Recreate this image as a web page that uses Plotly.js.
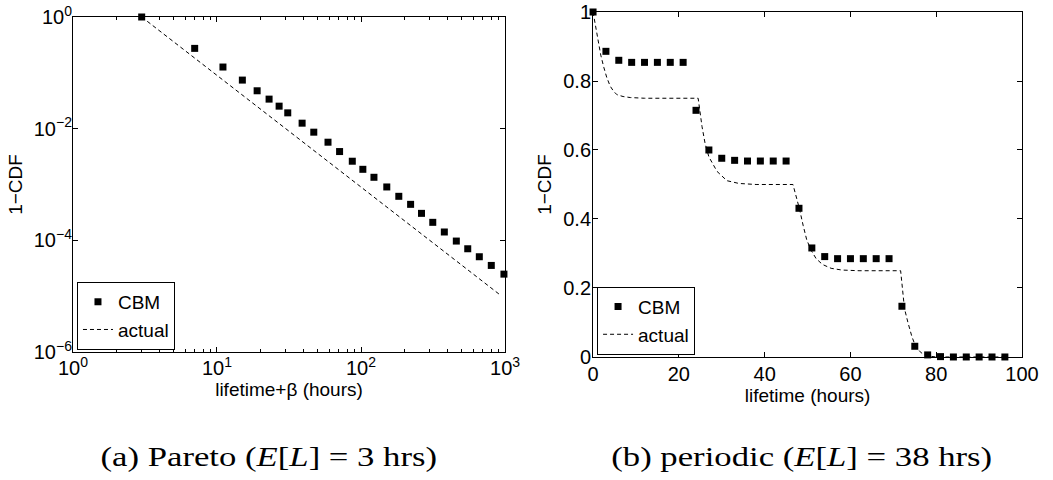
<!DOCTYPE html>
<html>
<head>
<meta charset="utf-8">
<script src="https://cdn.plot.ly/plotly-3.0.1.min.js"></script>
<style>
html,body{margin:0;padding:0;background:#fff;}
#chart{width:1053px;height:480px;}
</style>
</head>
<body>
<div id="chart"></div>
<script>
// ---- Panel (a): Pareto ----
var paretoX = [3, 7, 11, 15, 19, 23, 27, 31, 39, 47, 59, 71, 87, 103, 123, 151, 183, 221, 263, 315, 379, 459, 551, 663, 803, 983];
var paretoCBM = [1, 0.274, 0.127, 0.0741, 0.0477, 0.0338, 0.0253, 0.0192, 0.01254, 0.00865, 0.00572, 0.00389, 0.00261, 0.00187, 0.001346, 0.000903, 0.000614, 0.000441, 0.000304, 0.00021, 0.000141, 0.000097, 0.0000706, 0.0000508, 0.0000355, 0.0000248];
var paretoActualX = [3, 10, 30, 100, 300, 930];
var paretoActualY = [1, 0.09, 0.01, 0.0009, 0.0001, 0.0000104];

// ---- Panel (b): periodic ----
var periodicX = [0, 3, 6, 9, 12, 15, 18, 21, 24, 27, 30, 33, 36, 39, 42, 45, 48, 51, 54, 57, 60, 63, 66, 69, 72, 75, 78, 81, 84, 87, 90, 93, 96];
var periodicCBM = [1, 0.886, 0.860, 0.854, 0.854, 0.854, 0.854, 0.854, 0.715, 0.600, 0.576, 0.570, 0.568, 0.568, 0.568, 0.568, 0.431, 0.316, 0.291, 0.285, 0.285, 0.285, 0.285, 0.285, 0.147, 0.031, 0.006, 0.001, 0, 0, 0, 0, 0];
var periodicActualX = [0, 0.4, 0.8, 1.3, 1.8, 2.5, 3.2, 4, 4.8, 5.6, 7, 8.7, 12, 24.5, 25, 25.4, 26.1, 27, 28.9, 31.2, 34, 38, 46.6, 47.3, 48.1, 49, 49.8, 50.8, 52, 53.5, 55.5, 58, 62, 71.7, 72.2, 72.6, 73.4, 74.3, 75.2, 76.5, 78, 80, 96];
var periodicActualY = [1, 0.97, 0.94, 0.91, 0.875, 0.84, 0.81, 0.785, 0.77, 0.76, 0.755, 0.752, 0.75, 0.75, 0.70, 0.668, 0.62, 0.58, 0.538, 0.511, 0.503, 0.5, 0.5, 0.47, 0.43, 0.38, 0.34, 0.31, 0.285, 0.268, 0.257, 0.252, 0.25, 0.25, 0.19, 0.14, 0.1, 0.06, 0.03, 0.012, 0.003, 0, 0];

// ---- tick labels ----
var logXTickVals = [1, 10, 100, 1000];
var logXTickText = ['10<sup>0</sup>', '10<sup>1</sup>', '10<sup>2</sup>', '10<sup>3</sup>'];
var logYTickVals = [1e-6, 1e-4, 1e-2, 1];
var logYTickText = ['10<sup>\u22126</sup>', '10<sup>\u22124</sup>', '10<sup>\u22122</sup>', '10<sup>0</sup>'];
var linXTickVals = [0, 20, 40, 60, 80, 100];
var linYTickVals = [0, 0.2, 0.4, 0.6, 0.8, 1];

var captionA = '(a) Pareto (<i>E</i>[<i>L</i>] = 3 hrs)';
var captionB = '(b) periodic (<i>E</i>[<i>L</i>] = 38 hrs)';

var sans = 'Liberation Sans, Arial, Helvetica, sans-serif';
var serif = 'Liberation Serif, Times New Roman, serif';

var traces = [
  {x: paretoX, y: paretoCBM, type: 'scatter', mode: 'markers', name: 'CBM',
   marker: {symbol: 'square', size: 7, color: 'black'}, cliponaxis: false,
   xaxis: 'x', yaxis: 'y', legend: 'legend'},
  {x: paretoActualX, y: paretoActualY, type: 'scatter', mode: 'lines', name: 'actual',
   line: {color: 'black', width: 1, dash: '4px,3px'},
   xaxis: 'x', yaxis: 'y', legend: 'legend'},
  {x: periodicX, y: periodicCBM, type: 'scatter', mode: 'markers', name: 'CBM',
   marker: {symbol: 'square', size: 7, color: 'black'}, cliponaxis: false,
   xaxis: 'x2', yaxis: 'y2', legend: 'legend2'},
  {x: periodicActualX, y: periodicActualY, type: 'scatter', mode: 'lines', name: 'actual',
   line: {color: 'black', width: 1, dash: '4px,3px'},
   xaxis: 'x2', yaxis: 'y2', legend: 'legend2'}
];

var axisCommon = {
  showline: true, linecolor: 'black', linewidth: 1, mirror: 'ticks',
  ticks: 'inside', ticklen: 5, tickwidth: 1, tickcolor: 'black',
  showgrid: false, zeroline: false,
  tickfont: {family: sans, size: 20, color: 'black'}
};
function ax(extra) { return Object.assign({}, axisCommon, extra); }
var titleFont = {family: sans, size: 19, color: 'black'};

var legendCommon = {
  bgcolor: 'white', bordercolor: 'black', borderwidth: 1,
  font: {family: sans, size: 19, color: 'black'},
  xanchor: 'left', yanchor: 'bottom', tracegroupgap: 0, itemwidth: 30
};

var layout = {
  width: 1053, height: 480,
  margin: {l: 0, r: 0, t: 0, b: 0},
  paper_bgcolor: 'white', plot_bgcolor: 'white',
  xaxis: ax({type: 'log', range: [0, 3], domain: [0.0693, 0.4796], anchor: 'y',
    tickmode: 'array', tickvals: logXTickVals, ticktext: logXTickText, ticklabelstandoff: -2,
    minor: {ticks: 'inside', ticklen: 3, dtick: 'D1', tickcolor: 'black', showgrid: false},
    title: {text: 'lifetime+\u03b2 (hours)', font: titleFont, standoff: 2}}),
  yaxis: ax({type: 'log', range: [-6, 0], domain: [0.2667, 0.9646], anchor: 'x',
    tickmode: 'array', tickvals: logYTickVals, ticktext: logYTickText, ticklabelstandoff: -4,
    title: {text: '1\u2212CDF', font: titleFont, standoff: 6}}),
  xaxis2: ax({range: [0, 100], domain: [0.5632, 0.9706], anchor: 'y2',
    tickmode: 'array', tickvals: linXTickVals, ticklabelstandoff: -1,
    title: {text: 'lifetime (hours)', font: titleFont, standoff: 2}}),
  yaxis2: ax({range: [0, 1], domain: [0.2563, 0.975], anchor: 'x2',
    tickmode: 'array', tickvals: linYTickVals, ticklabelstandoff: -3,
    title: {text: '1\u2212CDF', font: titleFont, standoff: 6}}),
  legend: Object.assign({}, legendCommon, {x: 0.0731, y: 0.271}),
  legend2: Object.assign({}, legendCommon, {x: 0.567, y: 0.261}),
  showlegend: true,
  annotations: [
    {text: captionA, xref: 'paper', yref: 'paper', x: 0.255, y: 0.048, xanchor: 'center', yanchor: 'middle',
     showarrow: false, font: {family: serif, size: 28, color: 'black'}},
    {text: captionB, xref: 'paper', yref: 'paper', x: 0.7616, y: 0.048, xanchor: 'center', yanchor: 'middle',
     showarrow: false, font: {family: serif, size: 28, color: 'black'}}
  ]
};

// Computer Modern captions are wider than Times: stretch the caption text horizontally.
var captionStretch = 1.24;

Plotly.newPlot('chart', traces, layout, {staticPlot: true, displayModeBar: false}).then(function (gd) {
  var texts = gd.querySelectorAll('.annotation-text');
  texts.forEach(function (t) {
    var bb = t.getBBox();
    var cx = bb.x + bb.width / 2;
    var tr = t.getAttribute('transform') || '';
    t.setAttribute('transform', tr + ' translate(' + cx + ',0) scale(' + captionStretch + ',1) translate(' + (-cx) + ',0)');
  });
});
</script>
</body>
</html>
